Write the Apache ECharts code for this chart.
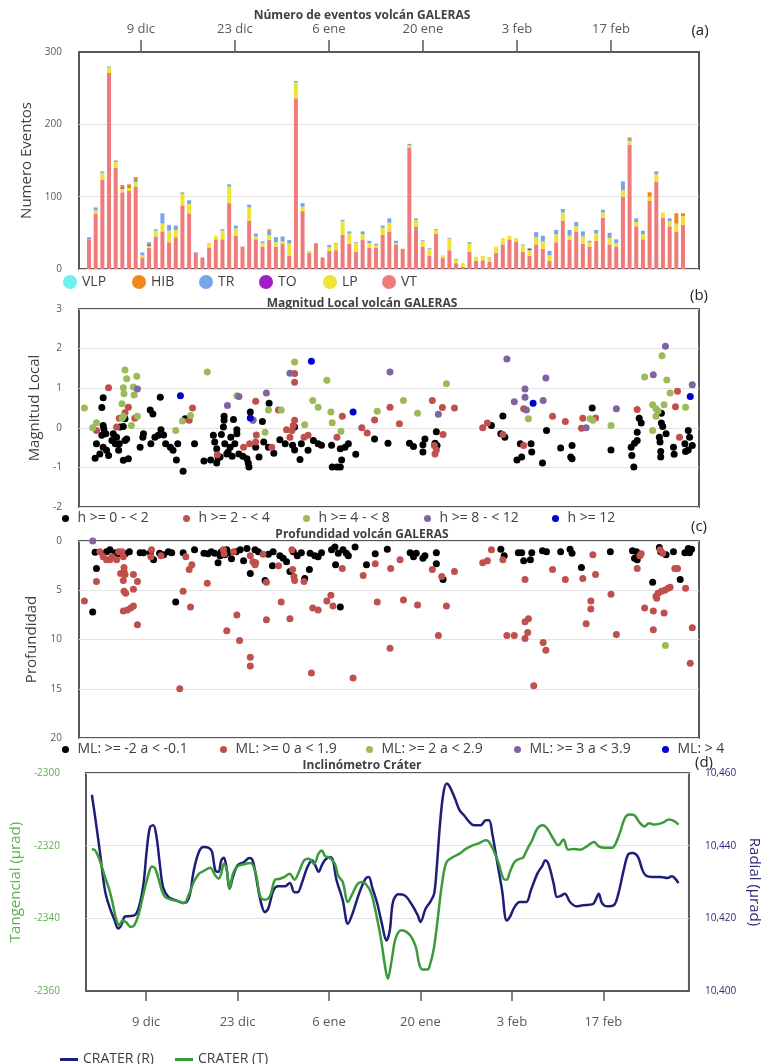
<!DOCTYPE html>
<html><head><meta charset="utf-8">
<script src="https://cdn.jsdelivr.net/npm/echarts@6/dist/echarts.min.js"></script>
<style>html,body{margin:0;padding:0;background:#fff}#c{width:770px;height:1064px}</style>
</head><body><div id="c"></div>
<script>
// x values = days since 1 dic
const tickDays = [8, 22, 36, 50, 64, 78];
const tickLabels = ['9 dic', '23 dic', '6 ene', '20 ene', '3 feb', '17 feb'];

// Panel (a): daily event counts (1 dic .. 28 feb)
const eventTypes = ['VLP', 'HIB', 'TR', 'TO', 'LP', 'VT'];
const vt = [41,76,123,271,140,106,108,114,16,29, 45,52,37,44,88,77,22,16,29,41, 41,91,46,31,67,41,31,40,31,35,
            18,236,80,22,35,16,25,26,47,35, 24,40,29,29,47,52,34,28,168,58, 31,18,49,15,26,8,3,24,11,12,
            10,22,34,41,38,24,18,34,28,11, 37,67,40,52,35,31,39,71,34,31, 100,172,59,41,94,121,71,59,52,61];
const lp = [0,5,10,8,8,5,4,6,3,3, 8,11,16,10,16,13,0,0,7,5, 12,23,10,0,18,4,5,7,6,3,
            17,22,6,3,0,0,5,9,19,14, 12,8,7,4,10,12,2,0,3,10, 8,10,5,4,16,5,5,11,6,6,
            5,9,9,5,5,9,8,10,10,8, 11,11,6,7,10,6,10,7,9,5, 9,5,6,7,6,10,7,7,10,12];
const tr = [3,4,2,1,2,0,0,3,4,3, 2,14,8,6,2,5,1,0,0,0, 2,3,4,0,4,4,2,6,7,7,
            5,2,5,0,1,0,3,1,2,3, 1,4,3,2,3,6,3,0,2,2, 1,1,1,0,1,1,0,2,0,0,
            1,0,0,0,0,1,1,7,8,6, 6,5,8,6,7,2,5,4,7,5, 12,3,5,5,0,4,0,4,1,0];
const hib = [0,0,0,0,0,3,5,4,0,0, 0,0,0,0,0,0,0,0,0,0, 0,0,0,0,0,0,0,2,0,0,
             0,0,0,0,0,0,0,0,0,0, 0,0,0,0,0,0,0,0,0,0, 0,0,0,0,0,0,0,0,0,0,
             0,0,0,0,0,0,0,0,0,0, 0,0,0,0,0,0,0,0,0,0, 0,2,0,0,6,0,0,0,14,4];
const to = [0,0,0,0,0,2,0,0,0,2, 0,0,0,0,0,0,0,0,0,0, 0,0,0,0,0,0,0,0,0,0,
            0,0,0,0,0,0,0,0,0,0, 0,0,0,0,0,0,0,0,0,0, 0,0,0,0,0,0,0,0,0,0,
            0,0,0,0,0,0,2,0,0,0, 0,0,0,0,0,0,0,0,0,0, 0,0,0,0,0,0,0,0,0,0];
const vlp = [0,1,0,0,0,0,0,0,0,0, 0,0,0,0,0,0,0,0,0,0, 0,0,0,0,0,0,0,0,0,0,
             0,0,0,0,0,0,0,0,0,0, 0,0,0,0,0,0,0,0,0,0, 0,0,0,0,0,0,0,0,0,0,
             0,0,0,0,0,0,0,0,0,0, 0,0,0,0,0,0,0,0,0,0, 0,0,0,0,0,0,0,0,0,0];

// Panel (b): local magnitude [day, ML] grouped by depth
const mlH0 = [[2.4,0.76],[2.2,0.51],[2.4,0.06],[2.5,-0.03],[2.2,-0.19],[2.8,-0.15],[1.4,-0.40],[1.2,-0.77],[1.9,-0.66],[2.4,-0.49],[2.9,-0.57],[3.2,-0.70],[3.7,-0.32],[3.9,-0.15],[4.4,-0.24],[4.2,-0.40],[4.7,-0.57],[4.8,-0.40],[4.9,0.02],[5.4,0.03],[5.65,0.23],[5.4,-0.82],[6.15,-0.78],[5.65,-0.32],[5.9,-0.28],[7.9,-0.49],[8.3,-0.24],[8.4,-0.15],[9.4,0.45],[9.8,0.35],[9.5,-0.40],[10.1,-0.24],[10.6,-0.19],[11.0,-0.05],[10.9,0.77],[11.4,-0.18],[11.7,-0.40],[12.4,-0.49],[12.8,-0.57],[13.3,-0.81],[13.5,-0.40],[14.3,-1.10],[14.6,0.23],[16.0,-0.40],[17.4,-0.84],[18.4,-0.81],[18.8,-0.19],[19.0,-0.36],[19.3,-0.53],[19.5,-0.76],[19.3,-0.89],[19.8,-0.74],[20.0,-0.17],[20.3,0.02],[20.4,0.29],[20.4,0.19],[20.5,-0.40],[20.8,-0.66],[21.0,-0.61],[21.3,-0.49],[21.4,-0.24],[21.6,-0.72],[21.8,0.21],[22.0,-0.40],[22.3,-0.15],[22.3,-0.05],[22.6,-0.66],[23.2,-0.72],[23.8,-0.78],[24.0,-0.89],[24.1,-0.99],[24.3,0.40],[25.1,-0.49],[25.6,-0.74],[26.1,0.16],[26.3,-0.36],[27.1,0.62],[27.0,-0.49],[27.8,-0.64],[28.7,-0.30],[29.5,-0.40],[30.6,-0.44],[30.9,-0.56],[30.9,0.02],[31.7,-0.80],[31.9,-0.40],[32.9,-0.57],[33.7,-0.32],[34.4,-0.40],[34.9,-0.44],[36.4,-0.44],[36.5,-0.99],[37.2,-0.99],[37.7,-0.99],[37.9,-0.81],[37.7,-0.53],[38.4,-0.49],[38.9,-0.40],[40.0,-0.67],[42.8,-0.28],[44.8,-0.39],[48.0,-0.39],[48.6,-0.47],[50.0,-0.43],[50.0,-0.61],[50.3,-0.28],[52.0,-0.10],[51.8,-0.39],[52.1,-0.45],[60.2,0.06],[61.9,0.30],[61.6,-0.15],[62.2,-0.24],[64.0,-0.81],[64.7,-0.74],[64.5,-0.40],[66.1,-0.40],[66.2,-0.61],[67.8,-0.89],[68.4,-0.07],[70.5,-0.51],[72.2,-0.45],[72.0,-0.74],[72.2,-0.78],[75.2,0.50],[78.0,-0.56],[81.0,-0.49],[81.1,-0.70],[81.4,-0.99],[81.5,-0.39],[81.9,-0.32],[81.9,-0.11],[82.2,0.24],[82.5,0.12],[85.2,-0.24],[85.3,-0.36],[85.5,0.37],[85.5,0.12],[85.7,0.03],[86.2,-0.15],[85.4,-0.60],[85.4,-0.74],[87.3,-0.49],[87.4,-0.67],[89.0,-0.40],[89.1,-0.60],[89.5,-0.07],[89.7,-0.24],[90.1,-0.45],[89.5,-0.56]];
const mlH2 = [[3.2,1.01],[6.15,0.52],[5.65,0.38],[4.8,0.24],[4.4,0.02],[1.4,-0.07],[7.1,0.24],[15.7,0.50],[15.2,0.19],[19.4,-0.68],[23.3,-0.49],[24.2,-0.40],[24.7,0.19],[25.1,0.67],[25.2,-0.18],[25.1,-0.36],[27.5,-0.49],[28.5,0.45],[30.9,1.37],[30.9,1.15],[30.9,0.19],[30.7,0.06],[30.5,-0.07],[30.2,-0.24],[29.7,-0.05],[32.3,-0.24],[32.9,-0.19],[37.2,-0.24],[38.0,0.29],[40.9,0.0],[41.7,-0.13],[42.8,0.20],[45.1,0.52],[46.5,0.10],[51.4,0.69],[52.9,0.51],[54.7,0.50],[53.0,-0.17],[51.7,-0.45],[51.8,-0.66],[52.0,-0.56],[58.9,0.0],[59.6,0.12],[61.9,-0.17],[65.0,0.48],[65.0,-0.45],[69.3,0.29],[71.2,0.16],[73.8,0.24],[73.6,-0.01],[75.7,0.25],[81.9,0.46],[87.6,0.53],[87.9,0.92],[88.2,-0.24]];
const mlH4 = [[-0.4,0.50],[0.84,0.0],[1.4,0.13],[5.65,1.46],[5.9,1.24],[7.4,1.30],[5.4,1.01],[5.5,0.86],[7.0,0.83],[6.9,1.03],[5.2,0.61],[7.5,0.29],[6.6,0.06],[5.4,0.29],[5.2,0.24],[17.9,1.41],[13.2,-0.07],[14.2,0.17],[15.4,0.31],[22.3,0.81],[27.0,0.45],[28.9,0.45],[26.5,-0.11],[30.9,1.66],[32.4,0.08],[33.6,0.69],[34.4,0.52],[35.7,1.20],[36.3,0.40],[36.5,0.13],[37.8,-0.09],[43.2,0.42],[47.1,0.69],[49.2,0.37],[53.5,1.11],[65.7,0.23],[74.9,0.23],[75.3,0.19],[78.0,0.06],[83.0,1.28],[85.6,1.82],[86.3,1.21],[86.8,0.88],[85.9,0.58],[84.2,0.58],[84.7,0.48],[85.0,0.42],[84.7,0.29],[84.2,-0.07],[89.1,0.52]];
const mlH8 = [[7.5,0.98],[22.6,0.79],[20.9,0.56],[26.7,0.88],[30.2,1.38],[24.7,0.20],[45.1,1.41],[62.5,1.74],[65.2,0.98],[65.2,0.77],[63.6,0.66],[68.3,1.26],[67.9,0.69],[65.4,0.45],[52.3,0.34],[74.3,0.0],[78.8,0.48],[84.3,1.34],[86.1,2.06],[90.1,1.09]];
const mlH12 = [[13.9,0.81],[24.3,0.25],[33.4,1.68],[39.6,0.40],[66.4,0.62],[89.8,0.79]];

// Panel (c): depth [day, km] grouped by magnitude
const depM0 = [[1.2,1.15],[1.4,2.8],[0.84,7.2],[2.9,1.1],[3.4,0.9],[4.2,1.2],[4.7,1.3],[5.2,1.2],[5.7,1.3],[6.3,1.1],[7.9,1.2],[8.4,1.2],[9.4,1.2],[9.9,1.9],[10.8,1.25],[11.4,1.4],[12.1,1.1],[12.6,1.2],[13.2,6.2],[14.3,1.2],[16.0,0.9],[17.4,1.25],[18.0,1.3],[18.5,1.1],[19.0,1.25],[19.5,2.2],[19.8,1.5],[20.0,1.1],[20.5,1.4],[20.8,0.9],[21.0,1.2],[21.5,1.8],[22.2,1.1],[22.8,0.9],[23.3,2.0],[23.8,0.75],[24.3,3.3],[25.0,0.9],[25.5,1.1],[26.5,4.0],[27.0,1.35],[27.7,1.1],[27.6,2.5],[28.7,1.5],[29.2,1.75],[29.7,2.1],[30.2,3.1],[30.7,1.1],[31.3,1.5],[31.9,1.2],[32.4,3.8],[33.1,2.9],[33.2,1.25],[33.9,1.5],[34.4,1.6],[34.9,1.2],[36.4,0.9],[36.9,0.6],[37.0,2.4],[37.4,1.25],[38.1,0.9],[38.6,1.25],[38.9,1.5],[37.7,6.7],[39.9,0.6],[41.6,2.4],[42.9,1.3],[44.7,0.85],[48.1,1.2],[48.6,1.6],[49.0,1.25],[50.0,1.75],[50.3,1.5],[52.0,1.2],[52.0,2.3],[53.0,3.9],[61.6,0.85],[62.1,1.5],[64.2,1.2],[64.7,1.2],[65.0,2.0],[66.0,1.9],[66.2,1.2],[67.8,1.0],[68.4,1.1],[70.5,1.1],[71.9,0.85],[72.2,1.25],[73.6,2.7],[77.9,1.1],[81.2,1.0],[81.5,1.75],[81.8,1.1],[81.9,1.9],[84.2,4.2],[85.2,0.65],[85.4,1.1],[86.2,1.4],[87.3,1.1],[88.3,3.9],[89.0,1.2],[89.5,0.75],[90.0,0.85],[89.7,1.2]];
const depM1 = [[-0.4,6.1],[1.4,4.1],[1.9,1.1],[2.4,1.6],[2.9,1.9],[3.4,1.9],[3.7,1.6],[4.4,1.9],[4.7,1.1],[5.2,1.1],[5.4,1.6],[5.5,2.7],[5.0,3.3],[5.4,4.0],[5.5,3.1],[5.65,3.4],[6.9,3.4],[7.5,4.1],[5.5,5.1],[5.75,5.3],[6.9,4.9],[5.4,7.1],[6.0,7.0],[6.5,6.8],[6.9,6.6],[7.5,8.5],[9.6,0.9],[9.5,1.6],[11.0,1.5],[14.7,1.6],[15.2,2.9],[15.6,2.4],[14.3,5.1],[15.4,6.7],[13.8,15.0],[17.9,4.3],[20.3,0.9],[20.4,1.3],[21.8,1.1],[20.8,9.1],[22.3,7.5],[22.7,10.1],[24.3,11.8],[24.3,12.7],[24.3,1.5],[24.7,2.1],[25.0,2.4],[25.1,2.2],[26.2,1.35],[26.7,4.2],[26.7,8.0],[28.5,2.5],[28.9,6.2],[30.2,7.9],[30.5,0.9],[30.6,2.9],[30.8,3.6],[30.9,4.0],[32.3,4.1],[33.4,13.4],[33.6,6.8],[34.4,7.0],[35.7,6.1],[36.3,5.5],[36.6,6.6],[38.0,2.8],[39.6,13.9],[41.1,3.5],[42.9,2.3],[43.2,6.2],[45.1,10.9],[45.2,2.8],[46.6,1.9],[47.1,6.0],[49.2,6.5],[51.4,2.9],[52.8,3.6],[54.7,3.1],[53.5,6.6],[52.3,9.6],[58.9,2.2],[59.6,2.0],[60.2,0.9],[61.9,1.9],[62.5,9.6],[63.6,9.6],[65.2,3.9],[65.2,8.2],[65.7,7.9],[65.6,9.3],[65.2,9.9],[67.9,10.3],[68.3,11.1],[66.5,14.7],[69.3,2.9],[71.2,3.9],[73.8,3.8],[75.7,3.4],[75.3,1.4],[75.0,6.1],[75.0,6.9],[74.3,8.4],[78.0,5.4],[78.8,9.5],[81.9,2.8],[82.3,1.5],[82.5,1.3],[83.0,6.8],[84.3,7.1],[85.9,7.3],[84.3,9.0],[84.7,5.6],[85.0,5.3],[85.5,5.1],[86.0,5.0],[86.5,4.8],[86.8,4.7],[84.8,5.8],[85.3,0.9],[85.7,1.25],[87.5,2.8],[87.9,2.8],[89.1,4.8],[90.1,8.8],[89.8,12.4]];
const depM2 = [[86.1,10.6]];
const depM3 = [[0.84,0.0]];
const depM4 = [];

// Panel (d): tiltmeter [day, µrad]
const craterR = [[-0.3,10454.0],[0.2,10447.9],[0.9,10438.7],[1.7,10427.7],[2.4,10423.1],[3.2,10419.4],[3.7,10417.2],[4.2,10418.1],[4.7,10420.4],[5.2,10420.6],[6.2,10420.8],[6.9,10423.1],[7.6,10429.5],[8.1,10438.7],[8.6,10445.1],[9.1,10445.6],[9.6,10442.4],[10.1,10435.0],[10.6,10428.6],[11.4,10425.9],[12.4,10425.1],[13.8,10424.2],[14.6,10425.9],[15.3,10433.2],[16.1,10438.3],[16.8,10439.6],[17.6,10439.4],[18.1,10438.3],[18.6,10433.2],[19.1,10432.8],[19.5,10435.9],[19.9,10436.7],[20.3,10434.1],[20.8,10428.2],[21.3,10431.4],[22.0,10434.6],[23.0,10435.5],[23.8,10436.6],[24.3,10436.0],[24.8,10431.8],[25.5,10425.0],[26.2,10421.7],[26.7,10422.7],[27.5,10427.7],[28.2,10428.8],[29.2,10428.8],[30.0,10429.7],[30.7,10427.2],[31.2,10427.2],[31.9,10430.0],[32.7,10434.1],[33.4,10436.0],[33.9,10434.6],[34.4,10432.8],[34.9,10434.6],[35.4,10436.1],[36.1,10436.9],[36.6,10436.0],[37.1,10430.9],[38.1,10425.0],[38.9,10418.5],[39.6,10421.3],[40.6,10426.8],[41.6,10430.9],[42.1,10431.4],[42.6,10428.6],[43.4,10424.0],[44.1,10418.5],[44.8,10413.9],[45.3,10416.6],[45.8,10424.5],[46.6,10426.6],[47.6,10426.3],[48.6,10424.0],[49.6,10420.8],[50.0,10419.0],[50.8,10422.7],[51.5,10424.5],[52.1,10426.8],[52.5,10434.1],[53.0,10446.1],[53.5,10454.3],[54.0,10457.1],[54.5,10456.2],[55.3,10452.9],[56.0,10449.7],[56.7,10448.3],[57.5,10446.5],[58.2,10445.6],[59.2,10445.6],[60.0,10447.0],[60.5,10447.0],[61.0,10443.3],[61.7,10436.0],[62.5,10427.7],[63.2,10419.4],[63.7,10420.4],[64.4,10423.1],[65.2,10424.5],[66.2,10424.5],[66.9,10427.7],[67.9,10432.3],[68.7,10434.6],[69.1,10436.0],[69.6,10435.0],[70.4,10429.5],[70.9,10425.9],[71.4,10426.1],[72.1,10426.8],[72.9,10424.5],[73.9,10423.3],[74.9,10423.6],[76.4,10423.9],[76.8,10425.0],[77.3,10426.8],[77.8,10424.2],[78.6,10423.3],[79.6,10423.6],[80.3,10426.8],[81.1,10433.2],[81.8,10437.6],[82.5,10438.0],[83.3,10436.9],[84.0,10433.2],[84.5,10431.8],[85.5,10431.4],[86.8,10431.4],[87.8,10431.1],[88.5,10431.6],[89.0,10430.9],[89.5,10429.7]];
const craterT = [[-0.3,-2321.0],[0.2,-2321.3],[0.9,-2324.0],[1.7,-2328.6],[2.4,-2332.3],[2.9,-2336.0],[3.4,-2340.1],[3.9,-2341.9],[4.4,-2340.6],[4.9,-2341.0],[5.7,-2342.4],[6.2,-2341.9],[6.9,-2338.7],[7.6,-2333.2],[8.4,-2327.7],[8.9,-2325.7],[9.4,-2326.3],[9.9,-2329.1],[10.4,-2332.3],[10.9,-2334.1],[11.9,-2334.9],[12.8,-2335.2],[13.8,-2335.8],[14.6,-2333.2],[15.3,-2330.0],[16.1,-2327.7],[16.8,-2327.0],[17.8,-2326.1],[18.6,-2328.2],[19.1,-2329.1],[19.5,-2327.7],[19.9,-2325.0],[20.3,-2326.3],[20.8,-2331.8],[21.3,-2327.7],[22.0,-2325.7],[23.0,-2325.1],[24.0,-2324.8],[24.8,-2327.7],[25.5,-2334.1],[26.2,-2334.9],[27.0,-2333.7],[27.7,-2329.5],[28.5,-2329.1],[29.2,-2328.6],[30.0,-2327.7],[30.7,-2329.4],[31.4,-2327.2],[32.2,-2324.0],[32.9,-2323.6],[33.7,-2325.0],[34.4,-2322.2],[34.9,-2321.3],[35.4,-2322.9],[36.1,-2323.3],[36.9,-2325.0],[37.4,-2328.2],[38.1,-2330.0],[38.9,-2335.5],[39.6,-2333.2],[40.4,-2330.5],[41.1,-2330.0],[41.6,-2330.5],[42.4,-2332.8],[43.1,-2337.8],[43.9,-2345.1],[44.6,-2353.4],[45.0,-2356.6],[45.6,-2351.5],[46.2,-2345.5],[47.1,-2343.3],[47.9,-2343.8],[48.6,-2345.1],[49.3,-2347.9],[49.8,-2352.5],[50.3,-2354.1],[51.1,-2354.1],[51.5,-2352.5],[52.0,-2348.8],[52.5,-2342.4],[53.3,-2330.5],[54.0,-2324.5],[55.0,-2323.1],[56.0,-2322.2],[57.0,-2320.8],[58.0,-2319.9],[59.0,-2319.3],[60.0,-2318.5],[60.5,-2319.0],[61.2,-2321.3],[62.0,-2325.0],[62.7,-2329.1],[63.2,-2329.4],[63.7,-2327.2],[64.4,-2324.5],[65.2,-2323.6],[65.7,-2323.3],[66.4,-2320.8],[67.1,-2318.5],[67.9,-2315.3],[68.7,-2314.4],[69.1,-2314.7],[69.6,-2315.8],[70.4,-2318.3],[71.1,-2319.9],[71.9,-2318.3],[72.6,-2321.1],[73.4,-2320.9],[74.4,-2321.1],[75.3,-2320.4],[76.6,-2319.0],[77.3,-2320.2],[78.3,-2320.6],[79.3,-2320.6],[80.3,-2317.6],[81.3,-2312.4],[82.0,-2311.4],[82.8,-2311.7],[83.5,-2313.5],[84.3,-2314.7],[85.0,-2313.8],[85.8,-2314.2],[86.5,-2314.0],[87.3,-2313.5],[88.0,-2312.8],[88.8,-2313.2],[89.5,-2314.2]];

// ---------------------------------------------------------------
const FONT = '"Open Sans", "Noto Sans", sans-serif';
const XMIN = -1.2, XMAX = 91.1;
const DAY = 86400000, BASE = Date.UTC(2022, 11, 1);
const fmtDay = v => { const i = tickDays.indexOf(Math.round(v)); return i >= 0 ? tickLabels[i] : ''; };

const grids = [
  { left: 79, top: 52, width: 620, height: 217 },
  { left: 79, top: 309, width: 620, height: 198 },
  { left: 79, top: 541, width: 620, height: 197 },
  { left: 79, top: 773, width: 620, height: 218 }
].map(g => Object.assign(g, { show: true, borderColor: '#595959', borderWidth: 2, containLabel: false }));

function xAx(gi, pos, showLabels, tickLen, margin) {
  return {
    type: 'value', gridIndex: gi, position: pos, min: XMIN, max: XMAX,
    axisLine: { show: showLabels, lineStyle: { color: '#595959', width: 2 } },
    axisTick: { show: showLabels, customValues: tickDays, length: tickLen, lineStyle: { color: '#595959', width: 1.5 } },
    axisLabel: { show: showLabels, customValues: tickDays, formatter: fmtDay, margin: margin, fontSize: 13, color: '#595959', fontFamily: FONT },
    splitLine: { show: false }
  };
}
// hidden time axis used by the stacked bars (same range as the visible day axis)
const xAxTime = { type: 'time', gridIndex: 0, show: false, position: 'bottom', min: BASE + XMIN * DAY, max: BASE + XMAX * DAY, splitLine: { show: false } };
function yAx(gi, o) {
  return Object.assign({
    type: 'value', gridIndex: gi, axisLine: { show: false }, axisTick: { show: false },
    axisLabel: { fontSize: 10, color: '#595959', margin: 17, fontFamily: FONT },
    splitLine: { lineStyle: { color: '#e3e3e3', width: 1 } },
    nameLocation: 'middle', nameTextStyle: { fontSize: 15, color: '#404040', fontFamily: FONT }
  }, o);
}

const colors = { VLP: '#6cf0f0', HIB: '#f0871c', TR: '#78a5e8', TO: '#a01cc4', LP: '#eee436', VT: '#f07b7b' };
const stackOrder = [['VT', vt], ['LP', lp], ['TO', to], ['TR', tr], ['HIB', hib], ['VLP', vlp]];
const barSeries = stackOrder.map(([n, arr]) => ({
  name: n, type: 'bar', stack: 'ev', xAxisIndex: 0, yAxisIndex: 0, barWidth: 4,
  itemStyle: { color: colors[n] }, data: arr.map((v, i) => [BASE + i * DAY, v])
}));

const mlNames = ['h >= 0 - < 2', 'h >= 2 - < 4', 'h >= 4 - < 8', 'h >= 8 - < 12', 'h >= 12'];
const depNames = ['ML: >= -2 a < -0.1', 'ML: >= 0 a < 1.9', 'ML: >= 2 a < 2.9', 'ML: >= 3 a < 3.9', 'ML: > 4'];
const dotColors = ['#000000', '#c0504d', '#9bbb59', '#8064a2', '#0000cc'];
const mlSets = [mlH0, mlH2, mlH4, mlH8, mlH12];
const depSets = [depM0, depM1, depM2, depM3, depM4];
const mlSeries = mlSets.map((d, i) => ({ name: mlNames[i], type: 'scatter', xAxisIndex: 2, yAxisIndex: 1, symbolSize: 7, itemStyle: { color: dotColors[i], opacity: 1 }, data: d }));
const depSeries = depSets.map((d, i) => ({ name: depNames[i], type: 'scatter', xAxisIndex: 3, yAxisIndex: 2, symbolSize: 7, itemStyle: { color: dotColors[i], opacity: 1 }, data: d }));

const navy = '#1e1e78', green = '#3b9b3b';
const lineSeries = [
  { name: 'CRATER (R)', type: 'line', xAxisIndex: 4, yAxisIndex: 4, data: craterR, smooth: 0.35, showSymbol: false, lineStyle: { color: navy, width: 2.5 }, itemStyle: { color: navy } },
  { name: 'CRATER (T)', type: 'line', xAxisIndex: 4, yAxisIndex: 3, data: craterT, smooth: 0.35, showSymbol: false, lineStyle: { color: green, width: 2.5 }, itemStyle: { color: green } }
];

const legText = { fontSize: 14, color: '#404040', fontFamily: FONT };
function leg(name, left, cy, w, h, icon) {
  return { data: [name], left: left, top: cy - h / 2, icon: icon, itemWidth: w, itemHeight: h, itemGap: 0, padding: 0, selectedMode: false, textStyle: legText };
}
const legends = [];
[['VLP', 63], ['HIB', 132], ['TR', 199], ['TO', 259], ['LP', 323], ['VT', 382]].forEach(([n, x]) => legends.push(leg(n, x, 282, 14, 14, 'circle')));
[62, 183, 303, 424, 552].forEach((x, i) => legends.push(leg(mlNames[i], x, 515, 14, 7, 'circle')));
[62, 220, 366, 514, 662].forEach((x, i) => legends.push(leg(depNames[i], x, 746, 14, 7, 'circle')));
legends.push(leg('CRATER (R)', 60, 1054, 18, 3, 'rect'));
legends.push(leg('CRATER (T)', 175, 1054, 18, 3, 'rect'));

function txt(s, x, y, font, fill) {
  return { type: 'text', x: x, y: y, silent: true,
    style: { text: s, font: font, fill: fill, align: 'center', verticalAlign: 'middle', textAlign: 'center', textVerticalAlign: 'middle' } };
}
const tFont = 'bold 12px ' + FONT, pFont = '15px ' + FONT;

const option = {
  animation: false,
  textStyle: { fontFamily: FONT },
  grid: grids,
  xAxis: [xAxTime, xAx(0, 'top', true, 12, 16), xAx(1, 'bottom', false, 0, 0), xAx(2, 'bottom', false, 0, 0), xAx(3, 'bottom', true, 10, 25)],
  yAxis: [
    yAx(0, { min: 0, max: 300, interval: 100, name: 'Numero Eventos', nameGap: 44 }),
    yAx(1, { min: -2, max: 3, interval: 1, name: 'Magnitud Local', nameGap: 37 }),
    yAx(2, { min: 0, max: 20, interval: 5, inverse: true, name: 'Profundidad', nameGap: 36 }),
    yAx(3, { min: -2360, max: -2300, interval: 20, name: 'Tangencial (μrad)', nameGap: 53,
      axisLabel: { fontSize: 10, color: '#5fae52', margin: 26, fontFamily: FONT, formatter: v => String(v) },
      nameTextStyle: { fontSize: 15, color: '#5fae52', fontFamily: FONT } }),
    yAx(3, { min: 10400, max: 10460, interval: 20, position: 'right', name: 'Radial (μrad)', nameGap: 56, nameRotate: -90,
      splitLine: { show: false },
      axisLabel: { fontSize: 10, color: '#2b2b7a', margin: 16, fontFamily: FONT, formatter: v => v.toLocaleString('en-US') },
      nameTextStyle: { fontSize: 15, color: '#2b2b7a', fontFamily: FONT } })
  ],
  legend: legends,
  graphic: [
    txt('Número de eventos volcán GALERAS', 362, 16, tFont, '#404040'),
    txt('Magnitud Local volcán GALERAS', 362, 304, tFont, '#404040'),
    txt('Profundidad volcán GALERAS', 362, 535, tFont, '#404040'),
    txt('Inclinómetro Cráter', 362, 766, tFont, '#404040'),
    txt('(a)', 700, 31, pFont, '#222'),
    txt('(b)', 699, 296, pFont, '#222'),
    txt('(c)', 699, 527, pFont, '#222'),
    txt('(d)', 704, 763, pFont, '#222')
  ],
  series: [...barSeries, ...mlSeries, ...depSeries, ...lineSeries]
};
const chart = echarts.init(document.getElementById('c'));
chart.setOption(option);
</script>
</body></html>
